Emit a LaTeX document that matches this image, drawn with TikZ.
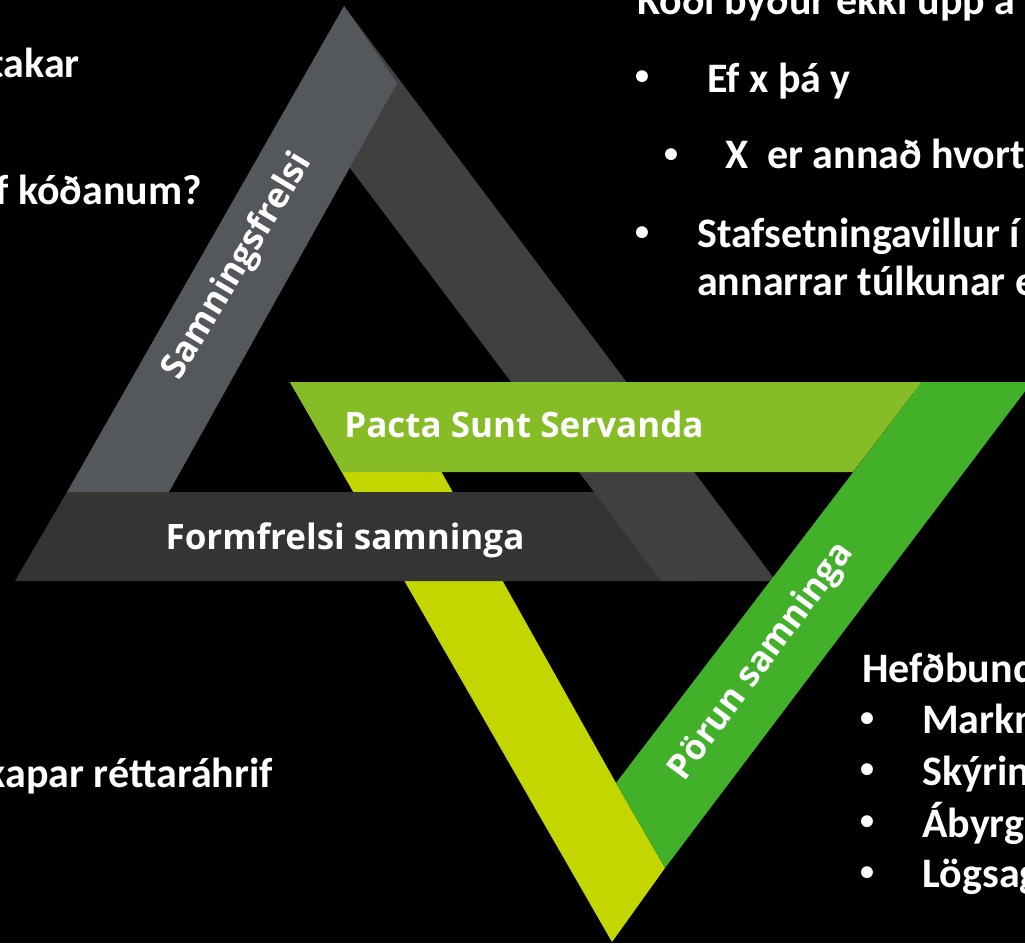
\documentclass[tikz,border=0pt]{standalone}
\usepackage{fontspec}
\newfontfamily\sidefont{Carlito}
\newfontfamily\bandfont{Open Sans}
\definecolor{grayL}{RGB}{84,87,92}
\definecolor{grayR}{RGB}{64,64,64}
\definecolor{grayB}{RGB}{52,52,50}
\definecolor{lime}{RGB}{196,214,0}
\definecolor{greenT}{RGB}{134,188,37}
\definecolor{greenD}{RGB}{67,176,42}
\tikzset{
  side/.style={text=white, font=\sidefont\bfseries\fontsize{42}{50}\selectfont, inner sep=0pt},
  bandlabel/.style={text=white, font=\bandfont\bfseries\fontsize{35}{41}\selectfont, inner sep=0pt},
  bul/.style={text=white, font=\sidefont\bfseries\fontsize{28}{30}\selectfont, inner sep=0pt, anchor=center},
}
\begin{document}
\begin{tikzpicture}[x=1pt,y=-1pt]
\useasboundingbox (0,0) rectangle (1025,943);
\fill[black] (0,0) rectangle (1025,943);
\clip (0,0) rectangle (1025,943);
% gray triangle coordinates
\coordinate (gApex) at (344,6);
\coordinate (gL) at (15,581);
\coordinate (gLtop) at (67,492);
\coordinate (gLin) at (169,492);
\coordinate (gAin) at (397,83);
\coordinate (gR) at (776,581);
\coordinate (gRin) at (661,581);
\coordinate (gRhid) at (350,168);
\coordinate (gBtr) at (640,492);
\coordinate (gBbr) at (700,581);
% green triangle coordinates
\coordinate (nTL) at (290,382);
\coordinate (nLin) at (391,382);
\coordinate (nApex) at (612,942);
\coordinate (nMeet) at (616,783);
\coordinate (nLow) at (665,868);
\coordinate (nTR) at (1032,382);
\coordinate (nDin) at (922,382);
\coordinate (nDbot) at (853,472);
\coordinate (nLbot) at (342,472);
% shapes (z-order)
\fill[lime] (nTL) -- (nLin) -- (nMeet) -- (nLow) -- (nApex) -- cycle;
\fill[grayB] (gL) -- (gLtop) -- (gBtr) -- (gBbr) -- cycle;
\fill[grayR] (gApex) -- (gR) -- (gRin) -- (gRhid) -- cycle;
\fill[grayL] (gApex) -- (gAin) -- (gLin) -- (gLtop) -- cycle;
\fill[greenT] (nTL) -- (nDin) -- (nDbot) -- (nLbot) -- cycle;
\fill[greenD] (nTR) -- (nDin) -- (nMeet) -- (nLow) -- cycle;
% band labels
\node[bandlabel, anchor=base] (pacta) at (524,437) {Pacta Sunt Servanda};
\node[bandlabel, anchor=base] (form) at (345,549) {Formfrelsi samninga};
\node[bandlabel, rotate=59] (samn) at (238,267) {Samningsfrelsi};
\node[bandlabel, rotate=53.5] (porun) at (762,662) {Pörun samninga};
% left texts
\node[side, anchor=base east] (t1) at (80,77) {takar};
\node[side, anchor=base east] (t2) at (202,204) {f kóðanum?};
\node[side, anchor=base east] (t3) at (273,787) {kapar réttaráhrif};
% top right texts
\node[side, anchor=base west] (r0) at (637,14) {Kóði býður ekki upp á};
\node[bul] (b1) at (642,78) {•};
\node[side, anchor=base west] (r1) at (707,92) {Ef x þá y};
\node[bul] (b2) at (671,156) {•};
\node[side, anchor=base west] (r2) at (725,168) {X\ \ er annað hvort};
\node[bul] (b3) at (642,234) {•};
\node[side, anchor=base west] (r3) at (697,247) {Stafsetningavillur í};
\node[side, anchor=base west] (r4) at (697,295) {annarrar túlkunar e};
% bottom right texts
\node[side, anchor=base west] (h0) at (862,682) {Hefðbund};
\node[bul] (c1) at (867,720) {•};
\node[side, anchor=base west] (h1) at (922,733) {Markn};
\node[bul] (c2) at (867,771) {•};
\node[side, anchor=base west] (h2) at (922,785) {Skýrin};
\node[bul] (c3) at (867,823) {•};
\node[side, anchor=base west] (h3) at (922,837) {Ábyrg};
\node[bul] (c4) at (867,874) {•};
\node[side, anchor=base west] (h4) at (922,887) {Lögsag};
\end{tikzpicture}
\end{document}
